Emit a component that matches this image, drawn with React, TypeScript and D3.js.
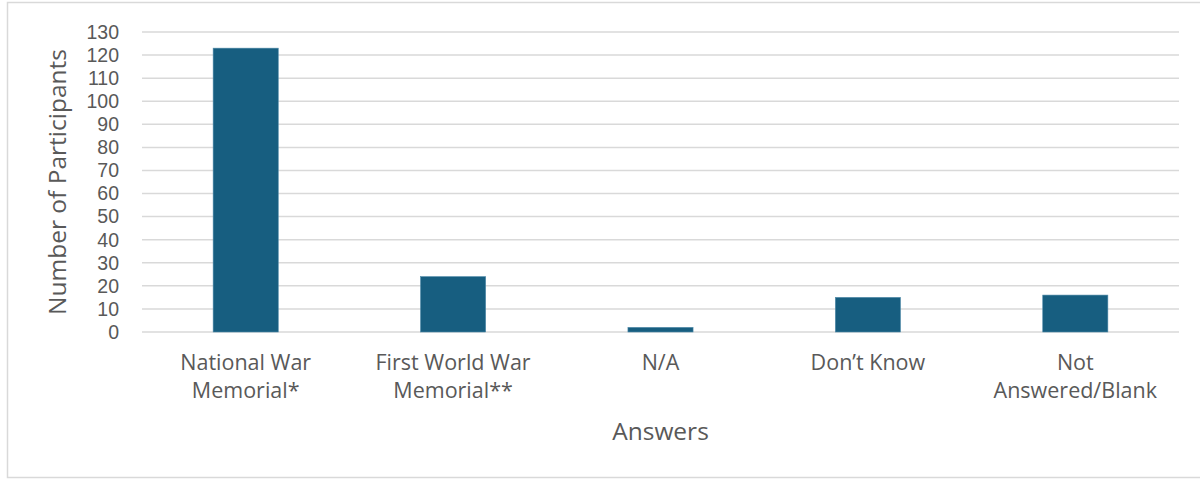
import React from "react";
import * as d3 from "d3";

const categories: string[][] = [
  ["National War", "Memorial*"],
  ["First World War", "Memorial**"],
  ["N/A"],
  ["Don\u2019t Know"],
  ["Not", "Answered/Blank"],
];
const values: number[] = [123, 24, 2, 15, 16];
const yTicks: number[] = [0, 10, 20, 30, 40, 50, 60, 70, 80, 90, 100, 110, 120, 130];
const yTitle = "Number of Participants";
const xTitle = "Answers";

const W = 1200;
const H = 479;
const left = 142;
const right = 1179;
const top = 32;
const bottom = 332;

export default function App() {
  const x = d3
    .scaleBand<number>()
    .domain(categories.map((_, i) => i))
    .range([left, right])
    .paddingInner(0.686)
    .paddingOuter(0.343);
  const y = d3.scaleLinear().domain([0, 130]).range([bottom, top]);
  const labelFont = "'Open Sans', sans-serif";
  const tickFont = "'Liberation Sans', Arial, sans-serif";
  return (
    <svg
      width={W}
      height={H}
      style={{ position: "absolute", left: 0, top: 0, background: "#fff" }}
    >
      <rect x={7.5} y={2.5} width={1300} height={475} fill="#fff" stroke="#d9d9d9" strokeWidth={1.5} />
      {yTicks.map((t) => (
        <g key={t}>
          <line x1={left} x2={right} y1={y(t)} y2={y(t)} stroke="#d9d9d9" strokeWidth={1.5} />
          <text
            x={119}
            y={y(t)}
            dy="0.35em"
            textAnchor="end"
            fontFamily={tickFont}
            fontSize={19.5}
            fill="#595959"
          >
            {t}
          </text>
        </g>
      ))}
      {values.map((v, i) => (
        <rect
          key={i}
          x={x(i)}
          y={y(v)}
          width={x.bandwidth()}
          height={y(0) - y(v)}
          fill="#175e80"
          stroke="#4f8aa8"
          strokeWidth={0.6}
        />
      ))}
      {categories.map((lines, i) => (
        <text
          key={i}
          textAnchor="middle"
          fontFamily={labelFont}
          fontSize={21.5}
          fill="#595959"
        >
          {lines.map((l, j) => (
            <tspan key={j} x={(x(i) as number) + x.bandwidth() / 2} y={370 + j * 28}>
              {l}
            </tspan>
          ))}
        </text>
      ))}
      <text
        x={(left + right) / 2}
        y={440}
        textAnchor="middle"
        fontFamily={labelFont}
        fontSize={24.5}
        fill="#595959"
      >
        {xTitle}
      </text>
      <text
        transform={`translate(66, ${(top + bottom) / 2}) rotate(-90)`}
        textAnchor="middle"
        fontFamily={labelFont}
        fontSize={24.5}
        fill="#595959"
      >
        {yTitle}
      </text>
    </svg>
  );
}
